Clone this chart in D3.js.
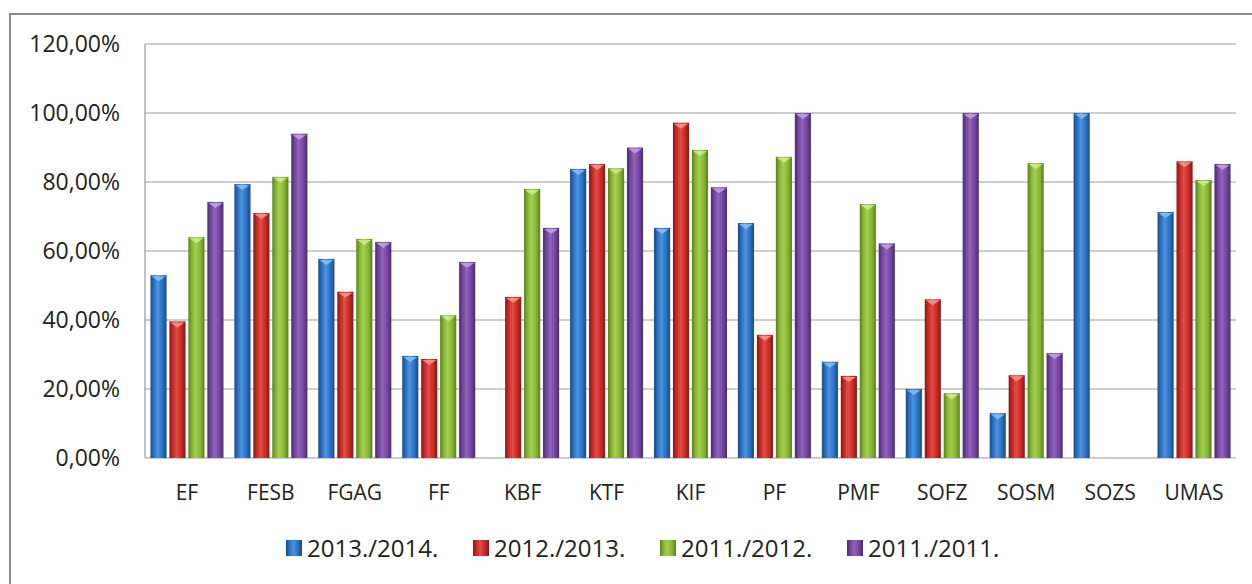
<!DOCTYPE html>
<html>
<head>
<meta charset="utf-8">
<script src="https://cdn.jsdelivr.net/npm/d3@7"></script>
<style>
  body { margin: 0; background: #fff; }
  text { font-family: "Open Sans", "Liberation Sans", sans-serif; fill: #222; }
</style>
</head>
<body>
<div id="chart"></div>
<script>
var categories = ["EF", "FESB", "FGAG", "FF", "KBF", "KTF", "KIF", "PF", "PMF", "SOFZ", "SOSM", "SOZS", "UMAS"];
var seriesNames = ["2013./2014.", "2012./2013.", "2011./2012.", "2011./2011."];

var s2013 = [53, 79.4, 57.7, 29.6, 0, 83.8, 66.7, 68.1, 27.9, 20, 13, 100, 71.3];
var s2012 = [39.6, 71, 48.2, 28.7, 46.7, 85.2, 97.2, 35.7, 23.8, 46, 24, 0, 86];
var s2011 = [64, 81.5, 63.5, 41.4, 78, 84, 89.3, 87.3, 73.6, 18.8, 85.5, 0, 80.6];
var s2010 = [74.2, 94, 62.6, 56.8, 66.7, 90, 78.5, 100, 62.2, 100, 30.4, 0, 85.2];
var yTicks = [0, 20, 40, 60, 80, 100, 120];

var allSeries = [s2013, s2012, s2011, s2010];

var colors = [
  {dark: "#1b4a86", base: "#2b70c2", light: "#4d93e0", cap: "#8cc0f2"},
  {dark: "#861816", base: "#c72a26", light: "#e24d46", cap: "#f29a94"},
  {dark: "#58801c", base: "#87b533", light: "#a4cf52", cap: "#d2eb98"},
  {dark: "#4a2b6a", base: "#7446a0", light: "#9062bb", cap: "#c3a6e0"}
];

var W = 1252, H = 584;
var plot = {left: 145, right: 1236, top: 44, bottom: 458};

var svg = d3.select("#chart").append("svg")
  .attr("width", W).attr("height", H);

var defs = svg.append("defs");
colors.forEach(function(c, i) {
  var g = defs.append("linearGradient").attr("id", "grad" + i)
    .attr("x1", 0).attr("x2", 1).attr("y1", 0).attr("y2", 0);
  g.append("stop").attr("offset", "0%").attr("stop-color", c.dark);
  g.append("stop").attr("offset", "22%").attr("stop-color", c.base);
  g.append("stop").attr("offset", "45%").attr("stop-color", c.light);
  g.append("stop").attr("offset", "75%").attr("stop-color", c.base);
  g.append("stop").attr("offset", "100%").attr("stop-color", c.dark);
});

// outer frame
svg.append("rect").attr("x", 10).attr("y", 14).attr("width", W + 10).attr("height", H)
  .attr("fill", "none").attr("stroke", "#8a8a8a").attr("stroke-width", 2);

var y = d3.scaleLinear().domain([0, 120]).range([plot.bottom, plot.top]);
var x0 = d3.scaleBand().domain(categories).range([plot.left, plot.right]);
var x1 = d3.scaleBand().domain(d3.range(4))
  .range([x0.bandwidth() * 0.065, x0.bandwidth() * 0.935]).paddingInner(0.15);

// gridlines
svg.append("g").selectAll("line").data(yTicks).enter().append("line")
  .attr("x1", plot.left).attr("x2", plot.right)
  .attr("y1", function(d) { return y(d); }).attr("y2", function(d) { return y(d); })
  .attr("stroke", "#bdbdbd").attr("stroke-width", 1.5);

svg.append("line").attr("x1", plot.left).attr("x2", plot.left)
  .attr("y1", plot.top).attr("y2", plot.bottom)
  .attr("stroke", "#999").attr("stroke-width", 1.2);

// y labels
var yAxis = d3.axisLeft(y).tickValues(yTicks).tickSize(0).tickPadding(0)
  .tickFormat(function(d) { return d3.format(".2f")(d).replace(".", ",") + "%"; });
var ya = svg.append("g").attr("transform", "translate(120,0)").call(yAxis);
ya.select(".domain").remove();
ya.selectAll("text").style("font-size", "23px").attr("fill", "#333");

// bars
var groups = svg.append("g").selectAll("g").data(categories).enter().append("g")
  .attr("transform", function(d) { return "translate(" + x0(d) + ",0)"; });

groups.each(function(cat, ci) {
  var g = d3.select(this);
  var vals = allSeries.map(function(s, si) { return {si: si, v: s[ci]}; })
    .filter(function(d) { return d.v > 0; });
  g.selectAll("rect").data(vals).enter().append("rect")
    .attr("x", function(d) { return x1(d.si); })
    .attr("y", function(d) { return y(d.v); })
    .attr("width", x1.bandwidth())
    .attr("height", function(d) { return y(0) - y(d.v); })
    .attr("fill", function(d) { return "url(#grad" + d.si + ")"; });
  g.selectAll("path.cap").data(vals).enter().append("path")
    .attr("class", "cap")
    .attr("d", function(d) {
      var bx = x1(d.si), bw = x1.bandwidth(), by = y(d.v);
      return "M" + (bx + 1) + "," + (by + 1) + "L" + (bx + bw - 1) + "," + (by + 1) +
             "L" + (bx + bw / 2) + "," + (by + 6) + "Z";
    })
    .attr("fill", function(d) { return colors[d.si].cap; })
    .attr("opacity", 0.85);
});

// category labels
svg.append("g").selectAll("text").data(categories).enter().append("text")
  .attr("x", function(d) { return x0(d) + x0.bandwidth() / 2; })
  .attr("y", 500)
  .attr("text-anchor", "middle")
  .style("font-size", "21px")
  .attr("fill", "#333")
  .text(function(d) { return d; });

// legend
var lx = d3.scaleBand().domain(d3.range(4)).range([286, 1034]);
var leg = svg.append("g").selectAll("g").data(seriesNames).enter().append("g")
  .attr("transform", function(d, i) { return "translate(" + lx(i) + ",0)"; });
leg.append("rect").attr("x", 0).attr("y", 540).attr("width", 16).attr("height", 16)
  .attr("fill", function(d, i) { return "url(#grad" + i + ")"; });
leg.append("text").attr("x", 21).attr("y", 557)
  .style("font-size", "24px").attr("fill", "#333")
  .text(function(d) { return d; });
</script>
</body>
</html>
